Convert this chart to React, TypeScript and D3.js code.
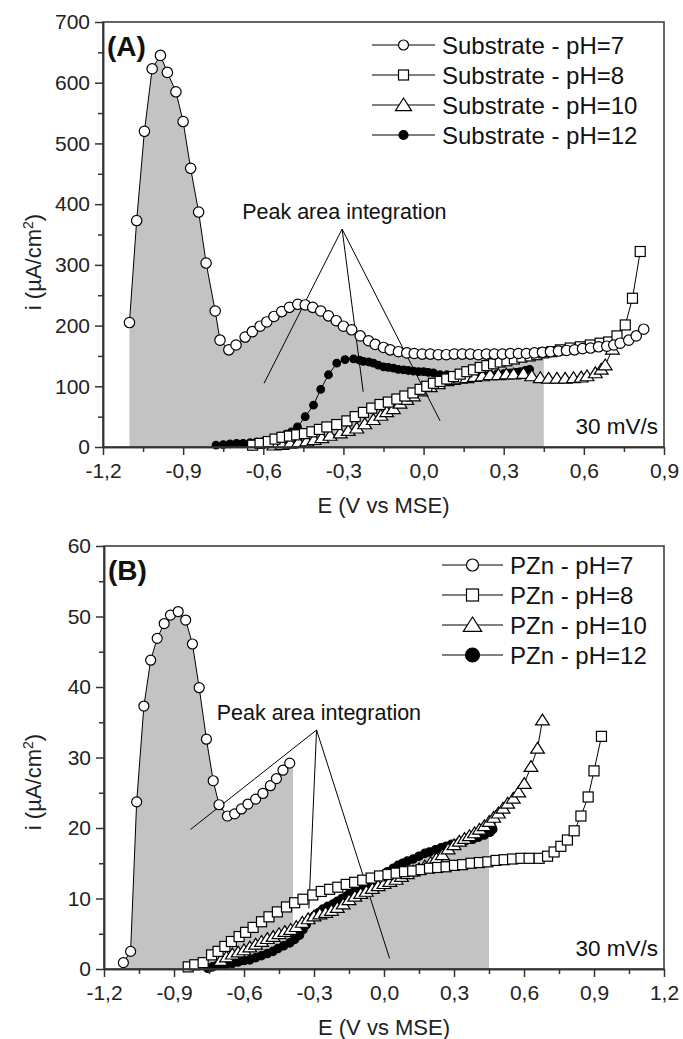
import React, { useEffect, useRef } from 'react';
import * as d3 from 'd3';

type Pt = [number, number];

const FONT = '"Liberation Sans", Arial, Helvetica, sans-serif';

// ---- panel A : substrate, E (V) / i (uA/cm2)
const subPH7: Pt[] = [
  [-1.101, 205], [-1.074, 373], [-1.045, 520], [-1.016, 623], [-0.985, 645], [-0.959, 617],
  [-0.927, 585], [-0.900, 536], [-0.872, 459], [-0.842, 387], [-0.814, 303], [-0.780, 224],
  [-0.762, 176], [-0.729, 160], [-0.702, 168], [-0.668, 181], [-0.641, 190], [-0.612, 199],
  [-0.587, 206], [-0.560, 215], [-0.531, 223], [-0.502, 230], [-0.471, 235], [-0.443, 234],
  [-0.415, 230], [-0.385, 224], [-0.356, 216], [-0.327, 208], [-0.300, 199], [-0.269, 193],
  [-0.237, 183], [-0.206, 175], [-0.181, 169], [-0.150, 164], [-0.125, 160], [-0.094, 157],
  [-0.063, 155], [-0.035, 154], [-0.005, 153], [0.025, 153], [0.055, 152], [0.085, 152],
  [0.115, 153], [0.145, 153], [0.175, 153], [0.205, 152], [0.235, 153], [0.265, 153],
  [0.295, 153], [0.325, 154], [0.355, 154], [0.385, 154], [0.415, 155], [0.445, 156],
  [0.475, 157], [0.505, 158], [0.535, 159], [0.565, 160], [0.595, 162], [0.625, 163],
  [0.655, 165], [0.686, 166], [0.712, 168], [0.736, 171], [0.768, 176], [0.796, 183],
  [0.824, 194],
];
const subPH8: Pt[] = [
  [-0.640, 3], [-0.612, 6], [-0.581, 9], [-0.556, 13], [-0.530, 16], [-0.502, 18],
  [-0.475, 20], [-0.446, 22], [-0.418, 25], [-0.390, 29], [-0.362, 33], [-0.325, 37],
  [-0.287, 43], [-0.256, 50], [-0.225, 57], [-0.194, 64], [-0.163, 70], [-0.132, 74],
  [-0.100, 79], [-0.070, 84], [-0.040, 89], [-0.013, 95], [0.012, 100], [0.037, 105],
  [0.062, 108], [0.087, 112], [0.112, 116], [0.137, 120], [0.162, 124], [0.187, 127],
  [0.212, 131], [0.237, 134], [0.262, 137], [0.287, 140], [0.312, 142], [0.340, 145],
  [0.368, 148], [0.399, 150], [0.424, 152], [0.450, 155], [0.480, 157], [0.512, 160],
  [0.549, 163], [0.587, 165], [0.624, 168], [0.661, 171], [0.693, 173], [0.724, 183],
  [0.755, 201], [0.782, 245], [0.811, 322],
];
const subPH10: Pt[] = [
  [-0.560, 3], [-0.530, 4], [-0.500, 6], [-0.468, 8], [-0.437, 10], [-0.410, 12],
  [-0.381, 15], [-0.350, 19], [-0.312, 23], [-0.282, 27], [-0.250, 31], [-0.220, 38],
  [-0.188, 45], [-0.160, 52], [-0.138, 58], [-0.113, 63], [-0.088, 72], [-0.063, 78],
  [-0.038, 84], [-0.010, 92], [0.025, 99], [0.055, 104], [0.087, 109], [0.112, 111],
  [0.137, 113], [0.162, 114], [0.190, 116], [0.220, 117], [0.249, 119], [0.280, 119],
  [0.310, 120], [0.337, 120], [0.374, 121], [0.405, 117], [0.437, 114], [0.468, 113],
  [0.499, 113], [0.530, 113], [0.561, 114], [0.590, 115], [0.612, 117], [0.643, 122],
  [0.665, 128], [0.680, 135], [0.707, 161],
];
const subPH12: Pt[] = [
  [-0.777, 3], [-0.750, 4], [-0.725, 5], [-0.700, 6], [-0.675, 6], [-0.649, 7],
  [-0.625, 8], [-0.600, 9], [-0.587, 11], [-0.562, 13], [-0.537, 18], [-0.515, 21],
  [-0.495, 25], [-0.472, 33], [-0.443, 50], [-0.412, 69], [-0.385, 95], [-0.356, 119],
  [-0.325, 138], [-0.294, 144], [-0.262, 145], [-0.240, 143], [-0.225, 141], [-0.205, 140],
  [-0.188, 138], [-0.170, 135], [-0.150, 132], [-0.132, 131], [-0.113, 130], [-0.095, 128],
  [-0.075, 127], [-0.057, 126], [-0.038, 125], [-0.019, 124], [0.000, 124], [0.018, 123],
  [0.037, 122], [0.062, 119], [0.087, 119], [0.110, 117], [0.125, 116], [0.150, 116],
  [0.175, 116], [0.200, 117], [0.225, 118], [0.249, 119], [0.275, 120], [0.300, 121],
  [0.325, 122], [0.348, 123], [0.362, 124], [0.380, 126], [0.397, 128],
];

// ---- panel B : PZn
const pznPH7: Pt[] = [
  [-1.117, 0.9], [-1.086, 2.5], [-1.060, 23.7], [-1.029, 37.3], [-1.000, 43.8], [-0.972, 46.9],
  [-0.942, 49.0], [-0.915, 50.2], [-0.882, 50.7], [-0.850, 49.5], [-0.821, 46.1], [-0.792, 39.9],
  [-0.761, 32.6], [-0.732, 26.7], [-0.707, 23.3], [-0.671, 21.7], [-0.640, 22.0], [-0.611, 22.7],
  [-0.583, 23.4], [-0.550, 24.1], [-0.519, 24.9], [-0.487, 26.0], [-0.461, 27.0], [-0.433, 28.2],
  [-0.404, 29.2],
];
const pznPH8: Pt[] = [
  [-0.839, 0.3], [-0.811, 0.6], [-0.775, 0.9], [-0.739, 2.0], [-0.711, 2.5], [-0.682, 3.2],
  [-0.654, 3.9], [-0.621, 4.6], [-0.593, 5.2], [-0.561, 5.9], [-0.525, 6.7], [-0.493, 7.4],
  [-0.457, 8.1], [-0.418, 8.8], [-0.383, 9.4], [-0.347, 9.9], [-0.305, 10.5], [-0.269, 11.0],
  [-0.233, 11.3], [-0.198, 11.6], [-0.162, 12.0], [-0.126, 12.3], [-0.091, 12.6], [-0.055, 12.9],
  [-0.019, 13.2], [0.017, 13.4], [0.052, 13.6], [0.088, 13.8], [0.123, 13.9], [0.159, 14.1],
  [0.195, 14.3], [0.230, 14.4], [0.266, 14.5], [0.302, 14.7], [0.337, 14.8], [0.373, 15.0],
  [0.409, 15.1], [0.445, 15.2], [0.480, 15.4], [0.515, 15.5], [0.551, 15.6], [0.587, 15.7],
  [0.622, 15.7], [0.665, 15.7], [0.701, 16.0], [0.729, 16.6], [0.758, 17.4], [0.786, 18.3],
  [0.815, 19.6], [0.844, 21.7], [0.875, 24.4], [0.900, 28.1], [0.932, 33.0],
];
const pznPH10: Pt[] = [
  [-0.700, 1.2], [-0.675, 1.7], [-0.650, 2.1], [-0.625, 2.4], [-0.600, 2.7], [-0.575, 3.1],
  [-0.550, 3.5], [-0.525, 3.9], [-0.500, 4.3], [-0.475, 4.6], [-0.450, 5.0], [-0.425, 5.3],
  [-0.400, 5.6], [-0.376, 6.0], [-0.350, 6.6], [-0.325, 7.1], [-0.300, 7.5], [-0.275, 7.8],
  [-0.250, 8.0], [-0.225, 8.3], [-0.200, 8.7], [-0.175, 9.2], [-0.150, 9.8], [-0.125, 10.3],
  [-0.100, 10.7], [-0.076, 11.0], [-0.050, 11.4], [-0.025, 11.8], [0.000, 12.1], [0.025, 12.4],
  [0.052, 12.7], [0.075, 13.1], [0.100, 13.5], [0.125, 13.9], [0.150, 14.2], [0.175, 14.6],
  [0.200, 15.1], [0.225, 15.7], [0.250, 16.2], [0.275, 17.0], [0.300, 17.6], [0.323, 18.1],
  [0.345, 18.5], [0.366, 18.9], [0.388, 19.3], [0.409, 19.8], [0.430, 20.3], [0.451, 20.9],
  [0.470, 21.5], [0.490, 22.1], [0.510, 22.8], [0.530, 23.5], [0.554, 24.2], [0.577, 25.1],
  [0.601, 26.3], [0.630, 28.7], [0.658, 31.3], [0.679, 35.3],
];
const pznPH12: Pt[] = [
  [-0.755, 0.1], [-0.735, 0.3], [-0.715, 0.5], [-0.695, 0.6], [-0.675, 0.7], [-0.650, 0.8],
  [-0.625, 1.0], [-0.600, 1.2], [-0.575, 1.3], [-0.550, 1.6], [-0.525, 1.9], [-0.500, 2.2],
  [-0.476, 2.5], [-0.455, 2.9], [-0.430, 3.3], [-0.404, 3.7], [-0.383, 4.2], [-0.362, 4.8],
  [-0.347, 5.6], [-0.333, 6.3], [-0.319, 7.0], [-0.300, 7.5], [-0.280, 8.0], [-0.262, 8.5],
  [-0.240, 8.9], [-0.219, 9.2], [-0.200, 9.6], [-0.180, 10.0], [-0.162, 10.3], [-0.148, 10.7],
  [-0.125, 11.1], [-0.100, 11.6], [-0.075, 12.1], [-0.050, 12.5], [-0.033, 12.9], [-0.010, 13.3],
  [0.015, 13.8], [0.040, 14.3], [0.060, 14.7], [0.080, 15.0], [0.100, 15.3], [0.125, 15.6],
  [0.150, 16.0], [0.175, 16.4], [0.195, 16.6], [0.220, 16.9], [0.245, 17.2], [0.266, 17.4],
  [0.290, 17.7], [0.323, 18.0], [0.350, 18.2], [0.380, 18.4], [0.405, 18.7], [0.430, 19.0],
  [0.455, 19.4], [0.466, 19.8], [0.494, 22.1],
];

const xTicksA = [-1.2, -0.9, -0.6, -0.3, 0, 0.3, 0.6, 0.9];
const yTicksA = [0, 100, 200, 300, 400, 500, 600, 700];
const xTicksB = [-1.2, -0.9, -0.6, -0.3, 0, 0.3, 0.6, 0.9, 1.2];
const yTicksB = [0, 10, 20, 30, 40, 50, 60];

const legendA = ['Substrate - pH=7', 'Substrate - pH=8', 'Substrate - pH=10', 'Substrate - pH=12'];
const legendB = ['PZn - pH=7', 'PZn - pH=8', 'PZn - pH=10', 'PZn - pH=12'];

type Kind = 'circle' | 'square' | 'triangle' | 'dot';

function marker(g: any, kind: Kind, x: number, y: number, s: number) {
  if (kind === 'circle' || kind === 'dot') {
    g.append('circle').attr('cx', x).attr('cy', y).attr('r', s)
      .attr('fill', kind === 'dot' ? '#000' : '#fff').attr('stroke', '#000').attr('stroke-width', 1.2);
  } else if (kind === 'square') {
    g.append('rect').attr('x', x - s).attr('y', y - s).attr('width', 2 * s).attr('height', 2 * s)
      .attr('fill', '#fff').attr('stroke', '#000').attr('stroke-width', 1.2);
  } else {
    g.append('path')
      .attr('d', `M${x},${y - s}L${x + s * 1.15},${y + s * 0.8}L${x - s * 1.15},${y + s * 0.8}Z`)
      .attr('fill', '#fff').attr('stroke', '#000').attr('stroke-width', 1.2);
  }
}

const fmtX = (d: number) => (d < 0 ? '-' : '') + Math.abs(d).toFixed(1).replace('.', ',');

function drawPanel(svg: any, p: any) {
  const x = d3.scaleLinear().domain(p.xDomain).range([p.left, p.right]);
  const y = d3.scaleLinear().domain(p.yDomain).range([p.bottom, p.top]);
  const g = svg.append('g');

  // shaded integration areas
  const area = d3.area<Pt>().x(d => x(d[0])).y0(y(0)).y1(d => y(d[1]));
  p.shade.forEach((s: any) => {
    const pts = s.data.filter((d: Pt) => d[0] <= s.to);
    pts.push([s.to, pts[pts.length - 1][1]]);
    g.append('path').attr('d', area(pts)).attr('fill', '#c3c3c3');
  });

  // annotation
  const n = p.note;
  n.ends.forEach((e: Pt) => {
    g.append('line').attr('x1', x(n.apex[0])).attr('y1', y(n.apex[1]))
      .attr('x2', x(e[0])).attr('y2', y(e[1])).attr('stroke', '#000').attr('stroke-width', 1);
  });
  g.append('text').attr('x', x(n.at[0])).attr('y', y(n.at[1])).text(n.text)
    .attr('font-family', FONT).attr('font-size', 21.5).attr('fill', '#111');

  // series
  const line = d3.line<Pt>().x(d => x(d[0])).y(d => y(d[1]));
  [...p.series].reverse().forEach((s: any) => {
    g.append('path').attr('d', line(s.data)).attr('fill', 'none').attr('stroke', '#000').attr('stroke-width', 1);
    const mg = g.append('g');
    s.data.forEach((d: Pt) => marker(mg, s.kind, x(d[0]), y(d[1]), s.size));
  });

  // frame
  g.append('rect').attr('x', p.left).attr('y', p.top).attr('width', p.right - p.left)
    .attr('height', p.bottom - p.top).attr('fill', 'none').attr('stroke', '#333').attr('stroke-width', 1.5);

  // axes
  const xMinor = d3.pairs(p.xTicks).map(([a, b]: any) => (a + b) / 2);
  const yMinor = d3.pairs(p.yTicks).map(([a, b]: any) => (a + b) / 2);
  const ax = g.append('g').attr('transform', `translate(0,${p.bottom})`)
    .call(d3.axisBottom(x).tickValues(p.xTicks).tickFormat(fmtX as any).tickSize(8).tickSizeOuter(0).tickPadding(8));
  const axm = g.append('g').attr('transform', `translate(0,${p.bottom})`)
    .call(d3.axisBottom(x).tickValues(xMinor).tickFormat(() => '').tickSize(5).tickSizeOuter(0));
  const ay = g.append('g').attr('transform', `translate(${p.left},0)`)
    .call(d3.axisLeft(y).tickValues(p.yTicks).tickFormat(d3.format('d') as any).tickSize(8).tickSizeOuter(0).tickPadding(5));
  const aym = g.append('g').attr('transform', `translate(${p.left},0)`)
    .call(d3.axisLeft(y).tickValues(yMinor).tickFormat(() => '').tickSize(5).tickSizeOuter(0));
  [ax, axm, ay, aym].forEach(a => {
    a.select('.domain').attr('stroke', '#333').attr('stroke-width', 1.5);
    a.selectAll('line').attr('stroke', '#333').attr('stroke-width', 1.5);
    a.selectAll('text').attr('font-family', FONT).attr('font-size', 21).attr('fill', '#222');
  });

  // axis titles
  g.append('text').attr('x', (p.left + p.right) / 2).attr('y', p.bottom + 66).attr('text-anchor', 'middle')
    .attr('font-family', FONT).attr('font-size', 22).attr('fill', '#222').text('E (V vs MSE)');
  const yt = g.append('text').attr('transform', `translate(41,${p.yTitleY}) rotate(-90)`)
    .attr('text-anchor', 'middle').attr('font-family', FONT).attr('font-size', 22).attr('fill', '#222');
  yt.append('tspan').text('i (µA/cm');
  yt.append('tspan').attr('dy', -8).attr('font-size', 14).text('2');
  yt.append('tspan').attr('dy', 8).text(')');

  // panel label and scan rate
  g.append('text').attr('x', p.left + 4).attr('y', p.top + 34).attr('font-family', FONT)
    .attr('font-weight', 'bold').attr('font-size', 28).attr('fill', '#111').text(p.label);
  g.append('text').attr('x', p.right - 6).attr('y', p.bottom - 13).attr('text-anchor', 'end')
    .attr('font-family', FONT).attr('font-size', 22.5).attr('fill', '#111').text('30 mV/s');

  // legend
  p.legend.forEach((t: string, i: number) => {
    const cy = p.legendTop + i * 30;
    const s = p.series[i];
    g.append('line').attr('x1', p.legendX).attr('x2', p.legendX + p.legendLen).attr('y1', cy).attr('y2', cy)
      .attr('stroke', '#000').attr('stroke-width', 1.2);
    marker(g, s.kind, p.legendX + p.legendLen / 2, cy, s.legendSize);
    g.append('text').attr('x', p.legendX + p.legendLen + 7).attr('y', cy + 8.5).attr('font-family', FONT)
      .attr('font-size', 24).attr('fill', '#111').text(t);
  });
}

const panelA = {
  left: 103, right: 664, top: 22, bottom: 447,
  xDomain: [-1.2, 0.9], yDomain: [0, 700], xTicks: xTicksA, yTicks: yTicksA,
  series: [
    { data: subPH7, kind: 'circle', size: 5.2, legendSize: 5 },
    { data: subPH8, kind: 'square', size: 5, legendSize: 5 },
    { data: subPH10, kind: 'triangle', size: 6, legendSize: 7 },
    { data: subPH12, kind: 'dot', size: 3.8, legendSize: 4.5 },
  ],
  shade: [{ data: subPH7, to: 0.45 }],
  note: { text: 'Peak area integration', at: [-0.679, 376], apex: [-0.305, 359],
    ends: [[-0.597, 105], [-0.226, 91], [0.062, 43]] },
  label: '(A)', legend: legendA, legendX: 372, legendLen: 63, legendTop: 45, yTitleY: 262,
};

const panelB = {
  left: 104, right: 664, top: 546, bottom: 969,
  xDomain: [-1.2, 1.2], yDomain: [0, 60], xTicks: xTicksB, yTicks: yTicksB,
  series: [
    { data: pznPH7, kind: 'circle', size: 5, legendSize: 6 },
    { data: pznPH8, kind: 'square', size: 5, legendSize: 6 },
    { data: pznPH10, kind: 'triangle', size: 6, legendSize: 8 },
    { data: pznPH12, kind: 'dot', size: 4.2, legendSize: 7 },
  ],
  shade: [{ data: pznPH7, to: -0.39 }, { data: pznPH12, to: 0.45 }],
  note: { text: 'Peak area integration', at: [-0.717, 35.3], apex: [-0.289, 33.9],
    ends: [[-0.829, 19.8], [-0.322, 8.6], [0.024, 1.5]] },
  label: '(B)', legend: legendB, legendX: 442, legendLen: 61, legendTop: 565, yTitleY: 782,
};

export default function App() {
  const ref = useRef<SVGSVGElement>(null);
  useEffect(() => {
    const svg = d3.select(ref.current);
    svg.selectAll('*').remove();
    drawPanel(svg, panelA);
    drawPanel(svg, panelB);
  }, []);
  return (
    <svg ref={ref} width={683} height={1039}
      style={{ position: 'absolute', left: 0, top: 0, background: '#fff', display: 'block' }} />
  );
}
